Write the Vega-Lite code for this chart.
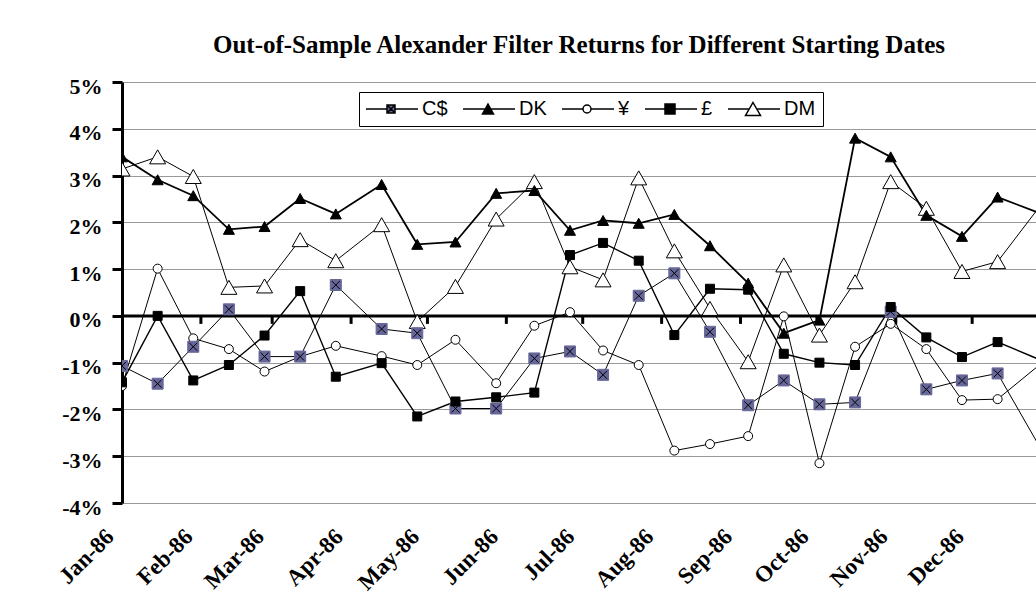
{
  "$schema": "https://vega.github.io/schema/vega-lite/v6.json",
  "width": 914,
  "height": 421,
  "autosize": "none",
  "padding": {"left": 122, "top": 82, "right": 0, "bottom": 93},
  "background": "white",
  "config": {"view": {"stroke": null}},
  "title": {
    "text": "Out-of-Sample Alexander Filter Returns for Different Starting Dates",
    "font": "Liberation Serif", "fontSize": 25, "fontWeight": "bold", "color": "black",
    "anchor": "middle", "frame": "group", "offset": 17
  },
  "datasets": {
    "months": [
      {"date": "1986-02-01"}, {"date": "1986-03-01"}, {"date": "1986-04-01"}, {"date": "1986-05-01"},
      {"date": "1986-06-01"}, {"date": "1986-07-01"}, {"date": "1986-08-01"}, {"date": "1986-09-01"},
      {"date": "1986-10-01"}, {"date": "1986-11-01"}, {"date": "1986-12-01"}
    ],
    "fx": [
      {"date": "1986-01-01", "series": "¥", "ret": -1.50},
      {"date": "1986-01-15", "series": "¥", "ret": 1.01},
      {"date": "1986-01-29", "series": "¥", "ret": -0.48},
      {"date": "1986-02-12", "series": "¥", "ret": -0.71},
      {"date": "1986-02-26", "series": "¥", "ret": -1.19},
      {"date": "1986-03-12", "series": "¥", "ret": -0.87},
      {"date": "1986-03-26", "series": "¥", "ret": -0.64},
      {"date": "1986-04-13", "series": "¥", "ret": -0.86},
      {"date": "1986-04-27", "series": "¥", "ret": -1.05},
      {"date": "1986-05-12", "series": "¥", "ret": -0.51},
      {"date": "1986-05-28", "series": "¥", "ret": -1.44},
      {"date": "1986-06-12", "series": "¥", "ret": -0.21},
      {"date": "1986-06-26", "series": "¥", "ret": 0.08},
      {"date": "1986-07-09", "series": "¥", "ret": -0.74},
      {"date": "1986-07-23", "series": "¥", "ret": -1.05},
      {"date": "1986-08-06", "series": "¥", "ret": -2.88},
      {"date": "1986-08-20", "series": "¥", "ret": -2.74},
      {"date": "1986-09-04", "series": "¥", "ret": -2.57},
      {"date": "1986-09-18", "series": "¥", "ret": -0.01},
      {"date": "1986-10-02", "series": "¥", "ret": -3.15},
      {"date": "1986-10-16", "series": "¥", "ret": -0.66},
      {"date": "1986-10-30", "series": "¥", "ret": -0.17},
      {"date": "1986-11-13", "series": "¥", "ret": -0.71},
      {"date": "1986-11-27", "series": "¥", "ret": -1.80},
      {"date": "1986-12-11", "series": "¥", "ret": -1.78},
      {"date": "1987-01-02", "series": "¥", "ret": -0.80},
      {"date": "1986-01-01", "series": "DM", "ret": 3.14},
      {"date": "1986-01-15", "series": "DM", "ret": 3.40},
      {"date": "1986-01-29", "series": "DM", "ret": 2.98},
      {"date": "1986-02-12", "series": "DM", "ret": 0.61},
      {"date": "1986-02-26", "series": "DM", "ret": 0.64},
      {"date": "1986-03-12", "series": "DM", "ret": 1.63},
      {"date": "1986-03-26", "series": "DM", "ret": 1.18},
      {"date": "1986-04-13", "series": "DM", "ret": 1.95},
      {"date": "1986-04-27", "series": "DM", "ret": -0.12},
      {"date": "1986-05-12", "series": "DM", "ret": 0.63},
      {"date": "1986-05-28", "series": "DM", "ret": 2.07},
      {"date": "1986-06-12", "series": "DM", "ret": 2.87},
      {"date": "1986-06-26", "series": "DM", "ret": 1.05},
      {"date": "1986-07-09", "series": "DM", "ret": 0.77},
      {"date": "1986-07-23", "series": "DM", "ret": 2.95},
      {"date": "1986-08-06", "series": "DM", "ret": 1.39},
      {"date": "1986-08-20", "series": "DM", "ret": 0.16},
      {"date": "1986-09-04", "series": "DM", "ret": -0.98},
      {"date": "1986-09-18", "series": "DM", "ret": 1.09},
      {"date": "1986-10-02", "series": "DM", "ret": -0.41},
      {"date": "1986-10-16", "series": "DM", "ret": 0.73},
      {"date": "1986-10-30", "series": "DM", "ret": 2.87},
      {"date": "1986-11-13", "series": "DM", "ret": 2.30},
      {"date": "1986-11-27", "series": "DM", "ret": 0.95},
      {"date": "1986-12-11", "series": "DM", "ret": 1.16},
      {"date": "1987-01-02", "series": "DM", "ret": 2.73},
      {"date": "1986-01-01", "series": "C$", "ret": -1.07},
      {"date": "1986-01-15", "series": "C$", "ret": -1.45},
      {"date": "1986-01-29", "series": "C$", "ret": -0.66},
      {"date": "1986-02-12", "series": "C$", "ret": 0.14},
      {"date": "1986-02-26", "series": "C$", "ret": -0.87},
      {"date": "1986-03-12", "series": "C$", "ret": -0.87},
      {"date": "1986-03-26", "series": "C$", "ret": 0.66},
      {"date": "1986-04-13", "series": "C$", "ret": -0.28},
      {"date": "1986-04-27", "series": "C$", "ret": -0.37},
      {"date": "1986-05-12", "series": "C$", "ret": -1.98},
      {"date": "1986-05-28", "series": "C$", "ret": -1.98},
      {"date": "1986-06-12", "series": "C$", "ret": -0.91},
      {"date": "1986-06-26", "series": "C$", "ret": -0.76},
      {"date": "1986-07-09", "series": "C$", "ret": -1.26},
      {"date": "1986-07-23", "series": "C$", "ret": 0.43},
      {"date": "1986-08-06", "series": "C$", "ret": 0.91},
      {"date": "1986-08-20", "series": "C$", "ret": -0.34},
      {"date": "1986-09-04", "series": "C$", "ret": -1.91},
      {"date": "1986-09-18", "series": "C$", "ret": -1.38},
      {"date": "1986-10-02", "series": "C$", "ret": -1.89},
      {"date": "1986-10-16", "series": "C$", "ret": -1.85},
      {"date": "1986-10-30", "series": "C$", "ret": 0.09},
      {"date": "1986-11-13", "series": "C$", "ret": -1.57},
      {"date": "1986-11-27", "series": "C$", "ret": -1.38},
      {"date": "1986-12-11", "series": "C$", "ret": -1.23},
      {"date": "1987-01-02", "series": "C$", "ret": -3.32},
      {"date": "1986-01-01", "series": "£", "ret": -1.42},
      {"date": "1986-01-15", "series": "£", "ret": 0.00},
      {"date": "1986-01-29", "series": "£", "ret": -1.38},
      {"date": "1986-02-12", "series": "£", "ret": -1.05},
      {"date": "1986-02-26", "series": "£", "ret": -0.42},
      {"date": "1986-03-12", "series": "£", "ret": 0.53},
      {"date": "1986-03-26", "series": "£", "ret": -1.30},
      {"date": "1986-04-13", "series": "£", "ret": -1.01},
      {"date": "1986-04-27", "series": "£", "ret": -2.15},
      {"date": "1986-05-12", "series": "£", "ret": -1.83},
      {"date": "1986-05-28", "series": "£", "ret": -1.74},
      {"date": "1986-06-12", "series": "£", "ret": -1.64},
      {"date": "1986-06-26", "series": "£", "ret": 1.30},
      {"date": "1986-07-09", "series": "£", "ret": 1.56},
      {"date": "1986-07-23", "series": "£", "ret": 1.18},
      {"date": "1986-08-06", "series": "£", "ret": -0.41},
      {"date": "1986-08-20", "series": "£", "ret": 0.58},
      {"date": "1986-09-04", "series": "£", "ret": 0.56},
      {"date": "1986-09-18", "series": "£", "ret": -0.81},
      {"date": "1986-10-02", "series": "£", "ret": -1.00},
      {"date": "1986-10-16", "series": "£", "ret": -1.05},
      {"date": "1986-10-30", "series": "£", "ret": 0.19},
      {"date": "1986-11-13", "series": "£", "ret": -0.46},
      {"date": "1986-11-27", "series": "£", "ret": -0.88},
      {"date": "1986-12-11", "series": "£", "ret": -0.56},
      {"date": "1987-01-02", "series": "£", "ret": -1.06},
      {"date": "1986-01-01", "series": "DK", "ret": 3.40},
      {"date": "1986-01-15", "series": "DK", "ret": 2.91},
      {"date": "1986-01-29", "series": "DK", "ret": 2.57},
      {"date": "1986-02-12", "series": "DK", "ret": 1.85},
      {"date": "1986-02-26", "series": "DK", "ret": 1.91},
      {"date": "1986-03-12", "series": "DK", "ret": 2.51},
      {"date": "1986-03-26", "series": "DK", "ret": 2.18},
      {"date": "1986-04-13", "series": "DK", "ret": 2.81},
      {"date": "1986-04-27", "series": "DK", "ret": 1.53},
      {"date": "1986-05-12", "series": "DK", "ret": 1.58},
      {"date": "1986-05-28", "series": "DK", "ret": 2.62},
      {"date": "1986-06-12", "series": "DK", "ret": 2.68},
      {"date": "1986-06-26", "series": "DK", "ret": 1.83},
      {"date": "1986-07-09", "series": "DK", "ret": 2.04},
      {"date": "1986-07-23", "series": "DK", "ret": 1.98},
      {"date": "1986-08-06", "series": "DK", "ret": 2.17},
      {"date": "1986-08-20", "series": "DK", "ret": 1.50},
      {"date": "1986-09-04", "series": "DK", "ret": 0.70},
      {"date": "1986-09-18", "series": "DK", "ret": -0.37},
      {"date": "1986-10-02", "series": "DK", "ret": -0.09},
      {"date": "1986-10-16", "series": "DK", "ret": 3.80},
      {"date": "1986-10-30", "series": "DK", "ret": 3.40},
      {"date": "1986-11-13", "series": "DK", "ret": 2.15},
      {"date": "1986-11-27", "series": "DK", "ret": 1.70},
      {"date": "1986-12-11", "series": "DK", "ret": 2.54},
      {"date": "1987-01-02", "series": "DK", "ret": 2.08}
    ]
  },
  "resolve": {"scale": {"shape": "independent", "fill": "independent", "stroke": "independent"}},
  "layer": [
    {
      "data": {"values": [{}]},
      "mark": {"type": "rule", "color": "black", "strokeWidth": 3},
      "encoding": {"y": {"datum": 0, "type": "quantitative", "title": null}}
    },
    {
      "data": {"name": "months"},
      "mark": {"type": "tick", "orient": "vertical", "color": "black", "thickness": 3, "size": 8, "yOffset": 4, "opacity": 1},
      "encoding": {
        "x": {"field": "date", "type": "temporal", "title": null},
        "y": {"datum": 0, "type": "quantitative", "title": null}
      }
    },
    {
      "data": {"name": "fx"},
      "transform": [{"filter": "datum.series == 'C$' || datum.series == '¥' || datum.series == 'DM'"}],
      "mark": {"type": "line", "clip": true, "color": "black", "strokeWidth": 1},
      "encoding": {
        "x": {
          "field": "date", "type": "temporal",
          "scale": {"type": "utc", "domain": [{"year": 1986, "month": 1, "date": 1, "utc": true}, {"year": 1986, "month": 12, "date": 26, "hours": 2, "utc": true}]},
          "axis": {
            "title": null, "tickCount": "month",
            "labelExpr": "utcFormat(datum.value, '%b-%y')",
            "labelAngle": -45, "labelFont": "Liberation Serif", "labelFontWeight": "bold", "labelFontSize": 23, "labelColor": "black",
            "domain": false, "ticks": false, "tickSize": 0, "grid": false,
            "labelPadding": 22, "labelOffset": -20, "labelOverlap": false, "labelBound": false, "labelFlush": false
          }
        },
        "y": {
          "field": "ret", "type": "quantitative",
          "scale": {"domain": [-4, 5], "nice": false, "zero": false},
          "axis": {
            "title": null, "values": [-4, -3, -2, -1, 0, 1, 2, 3, 4, 5],
            "labelExpr": "datum.value + '%'",
            "labelFont": "Liberation Serif", "labelFontWeight": "bold", "labelFontSize": 22, "labelColor": "black",
            "labelPadding": 10, "labelOffset": 4,
            "domainColor": "black", "domainWidth": 3,
            "tickColor": "black", "tickWidth": 3, "tickSize": 10,
            "grid": true, "gridColor": "#999999", "gridWidth": 1
          }
        },
        "detail": {"field": "series", "type": "nominal"}
      }
    },
    {
      "data": {"name": "fx"},
      "transform": [{"filter": "datum.series == 'DK'"}],
      "mark": {"type": "line", "clip": true, "color": "black", "strokeWidth": 1.8},
      "encoding": {
        "x": {"field": "date", "type": "temporal", "title": null},
        "y": {"field": "ret", "type": "quantitative", "title": null}
      }
    },
    {
      "data": {"name": "fx"},
      "transform": [{"filter": "datum.series == '£'"}],
      "mark": {"type": "line", "clip": true, "color": "black", "strokeWidth": 1.4},
      "encoding": {
        "x": {"field": "date", "type": "temporal", "title": null},
        "y": {"field": "ret", "type": "quantitative", "title": null}
      }
    },
    {
      "data": {"name": "fx"},
      "mark": {"type": "point", "clip": true, "filled": true, "opacity": 1, "size": 100, "strokeWidth": 1},
      "encoding": {
        "x": {"field": "date", "type": "temporal", "title": null},
        "y": {"field": "ret", "type": "quantitative", "title": null},
        "shape": {
          "field": "series", "type": "nominal", "legend": null,
          "scale": {
            "domain": ["C$", "DK", "¥", "£", "DM"],
            "range": [
              "M-1.1,-1.1H1.1V1.1H-1.1Z",
              "M0,-1L1.1,1H-1.1Z",
              "M-0.9,0A0.9,0.9,0,1,0,0.9,0A0.9,0.9,0,1,0,-0.9,0Z",
              "M-0.9,-0.9H0.9V0.9H-0.9Z",
              "M0,-1.4L1.6,1.4H-1.6Z"
            ]
          }
        },
        "fill": {
          "field": "series", "type": "nominal", "legend": null,
          "scale": {"domain": ["C$", "DK", "¥", "£", "DM"], "range": ["#666699", "black", "white", "black", "white"]}
        },
        "stroke": {
          "field": "series", "type": "nominal", "legend": null,
          "scale": {"domain": ["C$", "DK", "¥", "£", "DM"], "range": ["#666699", "black", "black", "black", "black"]}
        }
      }
    },
    {
      "data": {"name": "fx"},
      "transform": [{"filter": "datum.series == 'C$'"}],
      "mark": {"type": "point", "clip": true, "filled": false, "opacity": 1, "size": 100, "strokeWidth": 1, "color": "black",
               "shape": "M-0.8,-0.8L0.8,0.8M0.8,-0.8L-0.8,0.8"},
      "encoding": {
        "x": {"field": "date", "type": "temporal", "title": null},
        "y": {"field": "ret", "type": "quantitative", "title": null}
      }
    },
    {
      "data": {"name": "fx"},
      "transform": [{"filter": "datum.series == 'none'"}],
      "mark": {"type": "point", "clip": true, "filled": true, "opacity": 1, "size": 100, "strokeWidth": 1},
      "encoding": {
        "x": {"field": "date", "type": "temporal", "title": null},
        "y": {"field": "ret", "type": "quantitative", "title": null},
        "shape": {
          "field": "series", "type": "nominal",
          "scale": {
            "domain": ["C$", "DK", "¥", "£", "DM"],
            "range": [
              "M-5,0H-0.8M0.8,0H5.4M-0.8,-0.8H0.8V0.8H-0.8ZM-0.6,-0.6L0.6,0.6M0.6,-0.6L-0.6,0.6",
              "M-5,0H5.4M0,-1L1.1,1H-1.1Z",
              "M-5,0H-0.8M0.8,0H5.4M-0.8,0A0.8,0.8,0,1,0,0.8,0A0.8,0.8,0,1,0,-0.8,0Z",
              "M-5,0H5.4M-1,-1H1V1H-1Z",
              "M-5,0H-0.75M0.75,0H5.4M0,-1.3L1.5,1.3H-1.5Z"
            ]
          },
          "legend": {
            "title": null, "orient": "none", "legendX": 237, "legendY": 10, "direction": "horizontal",
            "symbolSize": 100, "symbolOffset": 15, "labelOffset": 21, "columnPadding": 12, "padding": 7,
            "strokeColor": "black", "fillColor": "white",
            "labelFont": "Liberation Sans", "labelFontSize": 20, "labelColor": "black"
          }
        },
        "fill": {
          "field": "series", "type": "nominal",
          "scale": {"domain": ["C$", "DK", "¥", "£", "DM"], "range": ["#666699", "black", "white", "black", "white"]},
          "legend": {
            "title": null, "orient": "none", "legendX": 237, "legendY": 10, "direction": "horizontal",
            "symbolSize": 100, "symbolOffset": 15, "labelOffset": 21, "columnPadding": 12, "padding": 7,
            "strokeColor": "black", "fillColor": "white",
            "labelFont": "Liberation Sans", "labelFontSize": 20, "labelColor": "black"
          }
        },
        "stroke": {
          "field": "series", "type": "nominal",
          "scale": {"domain": ["C$", "DK", "¥", "£", "DM"], "range": ["black", "black", "black", "black", "black"]},
          "legend": {
            "title": null, "orient": "none", "legendX": 237, "legendY": 10, "direction": "horizontal",
            "symbolSize": 100, "symbolOffset": 15, "labelOffset": 21, "columnPadding": 12, "padding": 7,
            "strokeColor": "black", "fillColor": "white",
            "labelFont": "Liberation Sans", "labelFontSize": 20, "labelColor": "black"
          }
        }
      }
    }
  ]
}
